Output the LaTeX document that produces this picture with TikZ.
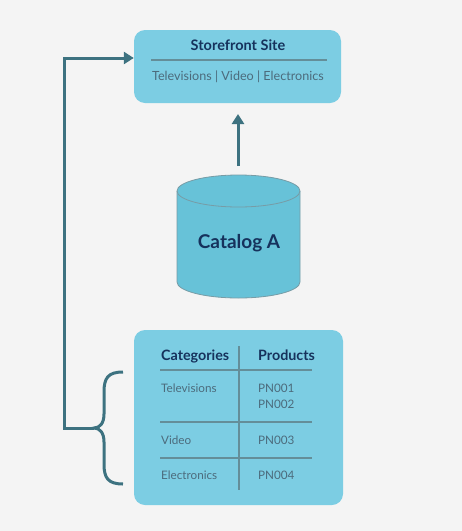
\documentclass[tikz,border=0pt]{standalone}
\usepackage{fontspec}
\setmainfont{Lato}
\usetikzlibrary{arrows.meta,shapes.geometric}
\definecolor{bg}{HTML}{F4F4F4}
\definecolor{boxfill}{HTML}{7CCDE3}
\definecolor{cylfill}{HTML}{67C2D8}
\definecolor{conn}{HTML}{3D7280}
\definecolor{navy}{HTML}{16325C}
\definecolor{subtxt}{HTML}{4C6B7C}
\tikzset{
  panel/.style={draw=none, fill=boxfill, rounded corners=11pt},
  rule/.style={draw=conn!80, line width=1.4pt},
  conline/.style={draw=conn, line width=3pt},
  title/.style={font=\bfseries\fontsize{14.5}{17}\selectfont, text=navy},
  cell/.style={font=\fontsize{11.7}{14}\selectfont, text=subtxt, anchor=base west, inner sep=0pt},
  head/.style={font=\bfseries\fontsize{14.3}{17}\selectfont, text=navy, anchor=base west, inner sep=0pt},
}
\begin{document}
\begin{tikzpicture}[x=1pt,y=-1pt]
\fill[bg] (0,0) rectangle (462,531);
\useasboundingbox (0,0) rectangle (462,531);
% top box
\node[panel, minimum width=207pt, minimum height=73pt] (site) at (237.5,66.5) {};
\node[title] (sitet) at (238,45) {Storefront Site};
\draw[rule] (151,60) -- (327,60);
\node[font=\fontsize{12.6}{15}\selectfont, text=subtxt] (sitesub) at (238,77) {Televisions | Video | Electronics};
% cylinder
\fill[cylfill, draw=conn!70, line width=0.8pt] (177,191) -- (177,282) arc[start angle=180, end angle=360, x radius=61.5pt, y radius=16pt] -- (300,191) arc[start angle=0, end angle=180, x radius=61.5pt, y radius=16pt] -- cycle;
\draw[conn!70, line width=0.8pt] (177,191) arc[start angle=180, end angle=360, x radius=61.5pt, y radius=16pt];
\node[font=\bfseries\fontsize{19}{22}\selectfont, text=navy] (cat) at (239,243) {Catalog A};
\coordinate (cyltop) at (238,166);
\draw[conline, -{Triangle[length=10pt,width=12pt]}] (cyltop) -- (238,114);
% bottom box
\node[panel, minimum width=209pt, minimum height=175pt] (tab) at (238.5,417.5) {};
\draw[rule] (239,346) -- (239,490);
\draw[rule] (160,370) -- (312,370);
\draw[rule] (160,422) -- (312,422);
\draw[rule] (160,458) -- (312,458);
\node[head] (hc) at (161,360) {Categories};
\node[head] (hp) at (258,360) {Products};
\node[cell] (c1) at (161,392) {Televisions};
\node[cell] (p1) at (258,392) {PN001};
\node[cell] (p2) at (258,408) {PN002};
\node[cell] (c2) at (161,444) {Video};
\node[cell] (p3) at (258,444) {PN003};
\node[cell] (c3) at (161,479) {Electronics};
\node[cell] (p4) at (258,479) {PN004};
% brace
\coordinate (btop) at (123,372);
\coordinate (btip) at (94,428);
\coordinate (bbot) at (123,484);
\draw[conline] (btop) .. controls (108,372) and (104,378) .. (104,392) -- (104,414) .. controls (104,423) and (100,428) .. (btip)
  .. controls (100,428) and (104,433) .. (104,442) -- (104,464) .. controls (104,478) and (108,484) .. (bbot);
\coordinate (corner1) at (64,428);
\coordinate (corner2) at (64,58);
\draw[conline, -{Triangle[length=10pt,width=12pt]}] (btip) -- (corner1) -- (corner2) -- (site.west |- corner2);
\end{tikzpicture}
\end{document}
